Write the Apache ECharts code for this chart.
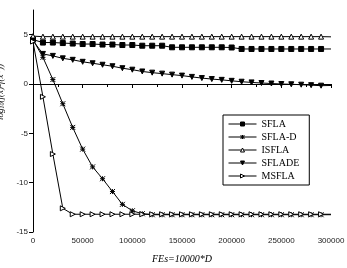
<!DOCTYPE html>
<html>
<head>
<meta charset="utf-8">
<script src="https://cdn.jsdelivr.net/npm/echarts@6/dist/echarts.min.js"></script>
<style>
  html, body { margin: 0; padding: 0; background: #fff; }
  #chart { width: 347px; height: 268px; }
</style>
</head>
<body>
<div id="chart"></div>
<script>
const fes = [0, 10000, 20000, 30000, 40000, 50000, 60000, 70000, 80000, 90000, 100000,
  110000, 120000, 130000, 140000, 150000, 160000, 170000, 180000, 190000, 200000,
  210000, 220000, 230000, 240000, 250000, 260000, 270000, 280000, 290000, 300000];

const sfla = [4.5, 4.2, 4.2, 4.15, 4.1, 4.05, 4.05, 4.0, 4.0, 3.95, 3.95,
  3.88, 3.88, 3.88, 3.72, 3.72, 3.72, 3.72, 3.72, 3.72, 3.7,
  3.55, 3.55, 3.55, 3.55, 3.55, 3.55, 3.55, 3.55, 3.55, 3.55];

const sflaD = [4.5, 2.7, 0.45, -2.0, -4.4, -6.6, -8.4, -9.6, -10.9, -12.2, -12.85,
  -13.15, -13.25, -13.25, -13.25, -13.25, -13.25, -13.25, -13.25, -13.25, -13.25,
  -13.25, -13.25, -13.25, -13.25, -13.25, -13.25, -13.25, -13.25, -13.25, -13.25];

const isfla = [4.85, 4.8, 4.8, 4.8, 4.8, 4.8, 4.8, 4.8, 4.8, 4.8, 4.8,
  4.8, 4.8, 4.8, 4.8, 4.8, 4.8, 4.8, 4.8, 4.8, 4.8,
  4.8, 4.8, 4.8, 4.8, 4.8, 4.8, 4.8, 4.8, 4.8, 4.78];

const sflade = [4.4, 3.05, 2.85, 2.6, 2.45, 2.25, 2.1, 1.95, 1.8, 1.6, 1.45,
  1.27, 1.15, 1.05, 0.95, 0.85, 0.72, 0.6, 0.5, 0.42, 0.32,
  0.23, 0.16, 0.1, 0.05, 0.0, -0.03, -0.07, -0.12, -0.17, -0.15];

const msfla = [4.3, -1.3, -7.1, -12.6, -13.2, -13.2, -13.2, -13.2, -13.2, -13.2, -13.2,
  -13.2, -13.2, -13.2, -13.2, -13.2, -13.2, -13.2, -13.2, -13.2, -13.2,
  -13.2, -13.2, -13.2, -13.2, -13.2, -13.2, -13.2, -13.2, -13.2, -13.2];

const names = ['SFLA', 'SFLA-D', 'ISFLA', 'SFLADE', 'MSFLA'];
const fills = ['#000', '#000', '#fff', '#000', '#fff'];
const yTicks = [-15, -10, -5, 0, 5];

// last point (300000) carries no marker in the original
function pts(ys) {
  return ys.map((y, i) => i === ys.length - 1
    ? { value: [fes[i], y], symbol: 'none' }
    : [fes[i], y]);
}

const chart = echarts.init(document.getElementById('chart'));

function line(name, ys, symbol, size, fill) {
  return {
    name: name,
    type: 'line',
    data: pts(ys),
    symbol: symbol,
    symbolSize: size,
    showAllSymbol: true,
    lineStyle: { color: '#000', width: 1 },
    itemStyle: { color: fill, borderColor: '#000', borderWidth: 1 },
    emphasis: { disabled: true },
    animation: false
  };
}

chart.setOption({
  backgroundColor: '#fff',
  grid: { left: 33, right: 16, top: 10, bottom: 36, outerBoundsMode: 'none', containLabel: false },
  legend: {
    orient: 'vertical',
    left: 223,
    top: 115,
    data: names.map((n, i) => ({
      name: n,
      itemStyle: { color: fills[i], borderColor: '#000', borderWidth: 1 },
      lineStyle: { color: '#000', width: 1 }
    })),
    itemWidth: 28,
    itemHeight: 5,
    itemGap: 3,
    padding: [4, 10, 4, 5],
    borderColor: '#000',
    borderWidth: 1,
    backgroundColor: '#fff',
    textStyle: { fontFamily: 'Liberation Serif', fontSize: 10, lineHeight: 10, color: '#000' }
  },
  xAxis: {
    type: 'value',
    min: 0,
    max: 300000,
    interval: 50000,
    name: 'FEs=10000*D',
    nameLocation: 'middle',
    nameGap: 22,
    nameTextStyle: { fontFamily: 'Liberation Serif', fontStyle: 'italic', fontSize: 10, color: '#000' },
    axisLine: { lineStyle: { color: '#000', width: 1 } },
    axisTick: { length: 4, lineStyle: { color: '#000' } },
    minorTick: { show: true, splitNumber: 2, length: 3, lineStyle: { color: '#000' } },
    axisLabel: { fontFamily: 'Liberation Sans', fontSize: 8, color: '#222', margin: 5, formatter: v => String(v) },
    splitLine: { show: false }
  },
  yAxis: {
    type: 'value',
    min: -15,
    max: 7.5,
    interval: 5,
    name: '{a|log}{b|10}{a|(f(x)-f(x*))}',
    nameLocation: 'middle',
    nameGap: 24,
    nameTextStyle: {
      padding: [0, 0, 0, 58],
      rich: {
        a: { fontFamily: 'Liberation Serif', fontStyle: 'italic', fontSize: 9, color: '#000' },
        b: { fontFamily: 'Liberation Serif', fontStyle: 'italic', fontSize: 6, color: '#000', verticalAlign: 'bottom', padding: [4, 0, 0, 0] }
      }
    },
    axisLine: { show: true, lineStyle: { color: '#000', width: 1 } },
    axisTick: { show: true, length: 4, lineStyle: { color: '#000' } },
    axisLabel: {
      fontFamily: 'Liberation Sans', fontSize: 8, color: '#222', margin: 5,
      showMaxLabel: false,
      formatter: v => (yTicks.indexOf(v) >= 0 ? String(v) : '')
    },
    splitLine: { show: false }
  },
  series: [
    line('SFLA', sfla, 'rect', 5, fills[0]),
    line('SFLA-D', sflaD, 'path://M0,0L10,10M10,0L0,10M0,5L10,5M5,0L5,10', 5, fills[1]),
    line('ISFLA', isfla, 'triangle', 5, fills[2]),
    line('SFLADE', sflade, 'path://M0,0L10,0L5,9Z', 5, fills[3]),
    line('MSFLA', msfla, 'path://M0,0L9,5L0,10Z', 5, fills[4])
  ]
});
</script>
</body>
</html>
